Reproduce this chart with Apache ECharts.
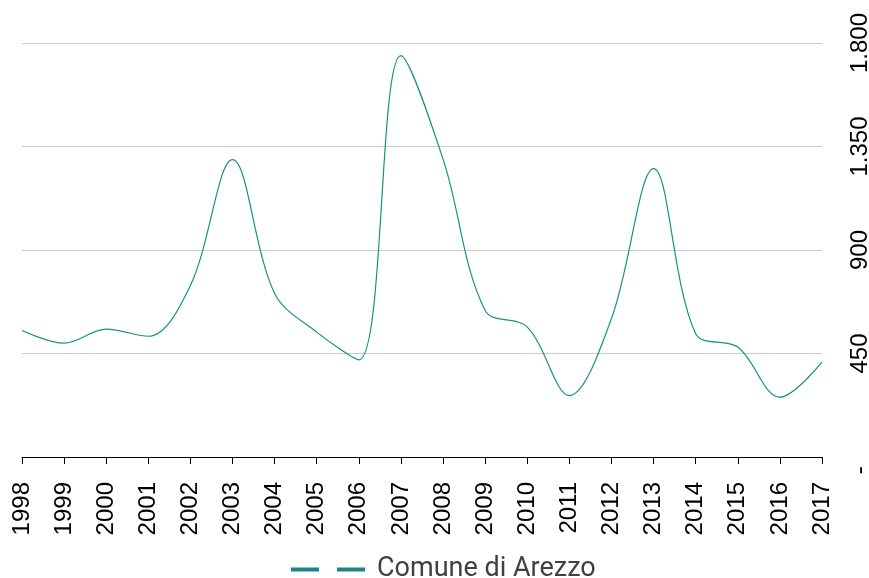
<!DOCTYPE html>
<html>
<head>
<meta charset="utf-8">
<script src="https://cdn.jsdelivr.net/npm/echarts@6/dist/echarts.min.js"></script>
<style>
html, body { margin: 0; padding: 0; background: #fff; }
#chart { width: 869px; height: 578px; }
</style>
</head>
<body>
<div id="chart"></div>
<script>
var anni = ['1998', '1999', '2000', '2001', '2002', '2003', '2004', '2005', '2006', '2007',
	'2008', '2009', '2010', '2011', '2012', '2013', '2014', '2015', '2016', '2017'];
var arezzo = [550, 495, 556, 525, 746, 1293, 711, 543, 422, 1745,
	1295, 637, 565, 267, 602, 1254, 536, 478, 260, 412];

// formato contabile: zero come trattino, separatore migliaia col punto
function fmt(v) {
	if (v === 0) return '-    ';
	return String(v).replace(/\B(?=(\d{3})+(?!\d))/g, '.');
}

var chart = echarts.init(document.getElementById('chart'));
var option = {
	animation: false,
	grid: { left: 22, right: 47, top: 43, bottom: 121, containLabel: false, outerBoundsMode: 'none' },
	legend: {
		top: 551,
		left: 286,
		data: ['Comune di Arezzo'],
		itemWidth: 74,
		itemHeight: 4,
		icon: 'path://M0,0 L28,0 L28,4 L0,4 Z M46,0 L74,0 L74,4 L46,4 Z',
		textStyle: { fontFamily: 'Roboto', fontSize: 27, color: '#404040', padding: [0, 0, 0, 7] }
	},
	xAxis: {
		type: 'category',
		boundaryGap: false,
		data: anni,
		axisLine: { lineStyle: { color: '#000', width: 1 } },
		axisTick: { length: 7, lineStyle: { color: '#000' } },
		axisLabel: {
			rotate: 90,
			margin: 25,
			fontFamily: "'Liberation Sans', Arial, sans-serif",
			fontSize: 24,
			color: '#000'
		}
	},
	yAxis: {
		type: 'value',
		position: 'right',
		min: 0,
		max: 1800,
		interval: 450,
		axisLine: { show: false },
		axisTick: { show: false },
		splitLine: { lineStyle: { color: '#cccccc', width: 1 } },
		axisLabel: {
			rotate: 90,
			margin: 26,
			fontFamily: "'Liberation Sans', Arial, sans-serif",
			fontSize: 24,
			color: '#000',
			formatter: fmt
		}
	},
	series: [{
		name: 'Comune di Arezzo',
		type: 'line',
		smooth: 0.35,
		symbol: 'none',
		data: arezzo,
		itemStyle: { color: '#1b8683' },
		lineStyle: { color: '#1a8f8c', width: 1.2 }
	}]
};
chart.setOption(option);
</script>
</body>
</html>
